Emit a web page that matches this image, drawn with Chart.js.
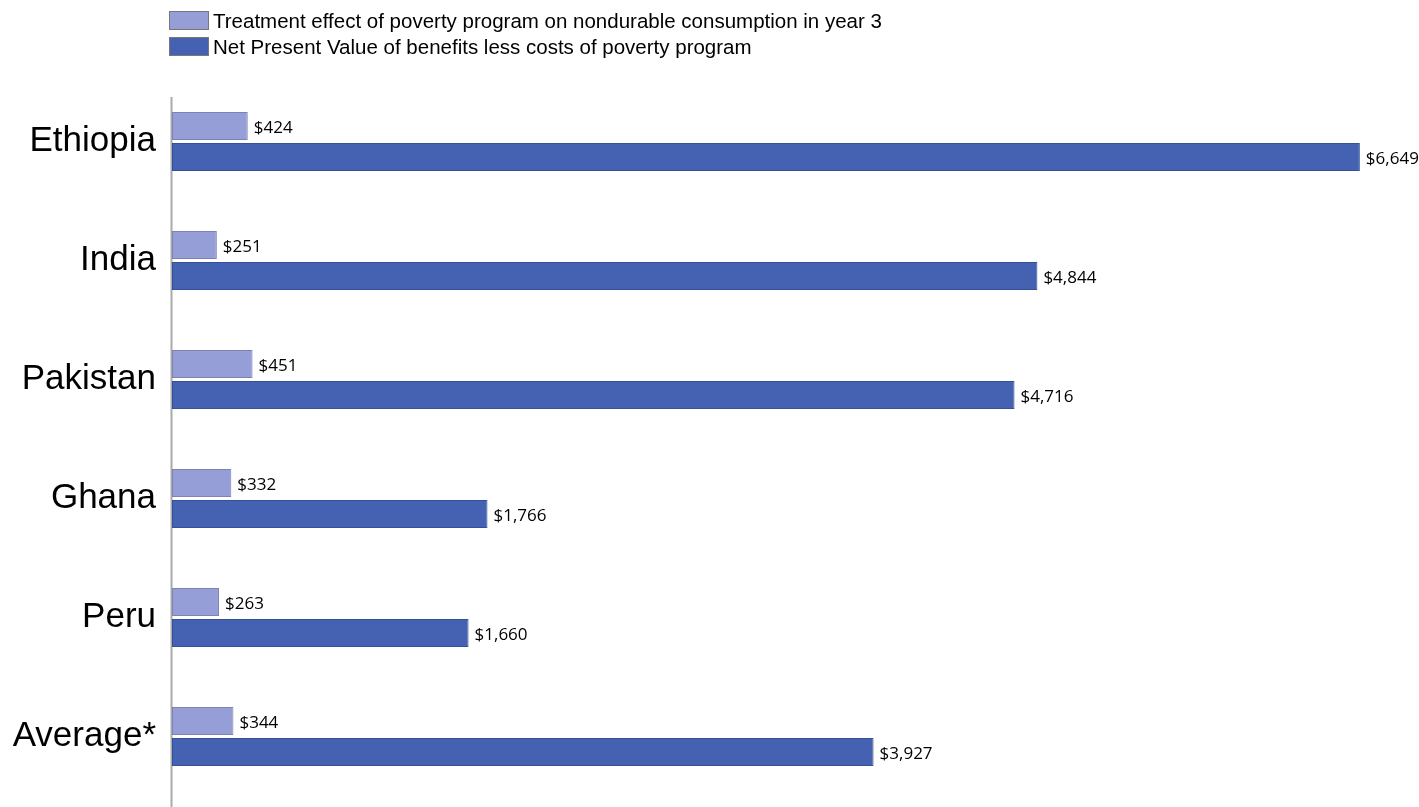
<!DOCTYPE html>
<html>
<head>
<meta charset="utf-8">
<script src="https://cdn.jsdelivr.net/npm/chart.js@4"></script>
<style>
  html, body { margin: 0; padding: 0; background: #fff; }
  #wrap { position: relative; width: 1419px; height: 807px; }
  #legend { position: absolute; left: 169px; top: 11px; font-family: "Liberation Sans", Arial, sans-serif; font-size: 20.5px; color: #000; }
  #legend .item { display: flex; align-items: center; height: 19px; margin-bottom: 7px; }
  #legend .box { width: 38px; height: 17px; margin-right: 4px; border: 1px solid #777; }
</style>
</head>
<body>
<div id="wrap">
  <canvas id="npvChart" width="1419" height="807"></canvas>
  <div id="legend"></div>
</div>
<script>
// Datos por país
const countries = ["Ethiopia", "India", "Pakistan", "Ghana", "Peru", "Average*"];
const consumptionEffect = [424, 251, 451, 332, 263, 344];
const netPresentValue = [6649, 4844, 4716, 1766, 1660, 3927];
const seriesNames = [
  "Treatment effect of poverty program on nondurable consumption in year 3",
  "Net Present Value of benefits less costs of poverty program"
];

const lightBlue = "#959ed6";
const darkBlue = "#4462b1";

// Etiquetas de valor al final de cada barra
const valueLabels = {
  id: "valueLabels",
  afterDatasetsDraw(chart) {
    const ctx = chart.ctx;
    ctx.save();
    ctx.font = '17px "Open Sans", sans-serif';
    ctx.fillStyle = "#000";
    ctx.textBaseline = "middle";
    ctx.textAlign = "left";
    chart.data.datasets.forEach((ds, i) => {
      chart.getDatasetMeta(i).data.forEach((bar, j) => {
        ctx.fillText("$" + ds.data[j].toLocaleString("en-US"), bar.x + 6, bar.y + 2);
      });
    });
    ctx.restore();
  }
};

// Línea vertical del eje
const axisLine = {
  id: "axisLine",
  beforeDatasetsDraw(chart) {
    const ctx = chart.ctx;
    const x = chart.scales.x.getPixelForValue(0) - 0.5;
    ctx.save();
    ctx.strokeStyle = "#aaaaaa";
    ctx.lineWidth = 2;
    ctx.beginPath();
    ctx.moveTo(x, 97);
    ctx.lineTo(x, chart.height);
    ctx.stroke();
    ctx.restore();
  }
};

const chart = new Chart(document.getElementById("npvChart"), {
  type: "bar",
  data: {
    labels: countries,
    datasets: [
      {
        label: seriesNames[0],
        data: consumptionEffect,
        backgroundColor: lightBlue,
        borderColor: "#7c82b4",
        borderWidth: 1,
        borderSkipped: false
      },
      {
        label: seriesNames[1],
        data: netPresentValue,
        backgroundColor: darkBlue,
        borderColor: "#34509a",
        borderWidth: 1,
        borderSkipped: false
      }
    ]
  },
  options: {
    indexAxis: "y",
    responsive: false,
    animation: false,
    categoryPercentage: 0.52,
    barPercentage: 0.9,
    layout: { padding: { top: 82, bottom: 11, left: 0, right: 0 } },
    plugins: {
      legend: { display: false },
      tooltip: { enabled: false }
    },
    scales: {
      x: {
        display: false,
        min: 0,
        max: 6980
      },
      y: {
        grid: { display: false },
        border: { display: false },
        ticks: {
          color: "#000",
          padding: 8,
          font: { family: '"Liberation Sans", Arial, sans-serif', size: 35 }
        },
        afterFit(scale) {
          scale.width = 172;
          scale.paddingTop = 0;
          scale.paddingBottom = 0;
        }
      }
    }
  },
  plugins: [axisLine, valueLabels]
});

// Leyenda en HTML, una línea por serie
const legend = document.getElementById("legend");
legend.innerHTML = chart.data.datasets
  .map((ds) => `<div class="item"><span class="box" style="background:${ds.backgroundColor}"></span>${ds.label}</div>`)
  .join("");
</script>
</body>
</html>
